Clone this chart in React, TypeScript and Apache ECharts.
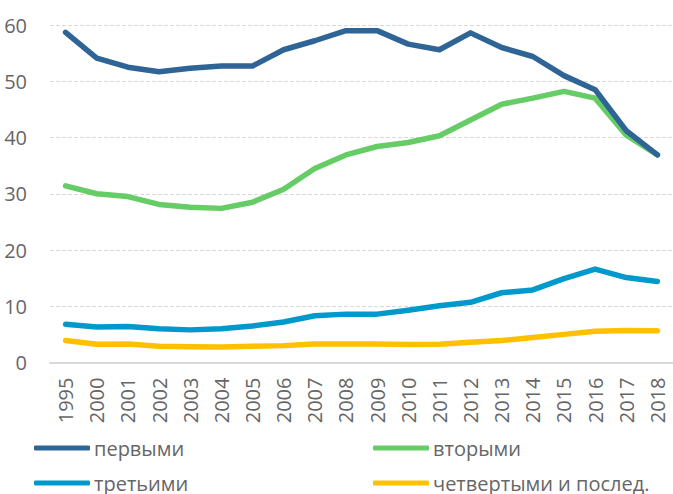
import React, { useEffect, useRef } from "react";
import * as echarts from "echarts";

const years = ["1995", "2000", "2001", "2002", "2003", "2004", "2005", "2006", "2007", "2008", "2009", "2010", "2011", "2012", "2013", "2014", "2015", "2016", "2017", "2018"];
const first = [58.7, 54.1, 52.5, 51.7, 52.3, 52.7, 52.7, 55.6, 57.2, 59.0, 59.0, 56.6, 55.6, 58.6, 56.0, 54.4, 51.0, 48.5, 41.2, 36.9];
const second = [31.4, 30.0, 29.5, 28.1, 27.6, 27.4, 28.5, 30.8, 34.5, 36.9, 38.4, 39.1, 40.3, 43.1, 45.9, 47.0, 48.2, 47.0, 40.4, 36.9];
const third = [6.8, 6.3, 6.4, 6.0, 5.8, 6.0, 6.5, 7.2, 8.3, 8.6, 8.6, 9.3, 10.1, 10.7, 12.4, 12.9, 14.9, 16.6, 15.1, 14.4];
const fourth = [3.9, 3.25, 3.3, 2.9, 2.8, 2.75, 2.9, 3.0, 3.3, 3.3, 3.3, 3.2, 3.25, 3.6, 3.9, 4.45, 5.0, 5.55, 5.7, 5.65];

const names = ["первыми", "вторыми", "третьими", "четвертыми и послед."];
const colors = ["#2F6497", "#66CC66", "#0099CC", "#FFC000"];
const seriesData = [first, second, third, fourth];

const FONT = "'Open Sans', sans-serif";
const TEXT = "#666666";

export default function App() {
  const ref = useRef<HTMLDivElement>(null);
  useEffect(() => {
    if (!ref.current) return;
    const chart = echarts.init(ref.current, undefined, { renderer: "svg" });
    const legendPos = [
      { left: 34, top: 438 },
      { left: 373, top: 438 },
      { left: 34, top: 473 },
      { left: 373, top: 473 },
    ];
    chart.setOption({
      animation: false,
      backgroundColor: "#ffffff",
      textStyle: { fontFamily: FONT },
      grid: { left: 50, top: 25, width: 628, height: 337.5 },
      legend: names.map((n, i) => ({
        data: [n],
        left: legendPos[i].left,
        top: legendPos[i].top,
        padding: 0,
        icon: "roundRect",
        itemWidth: 56,
        itemHeight: 5,
        textStyle: { fontFamily: FONT, fontSize: 20, color: TEXT, lineHeight: 18, padding: [0, 0, 2, -1] },
      })),
      xAxis: {
        type: "category",
        data: years,
        boundaryGap: true,
        axisTick: { show: false },
        axisLine: { lineStyle: { color: "#D9D9D9", width: 2 } },
        axisLabel: { rotate: 90, margin: 15, fontSize: 20, color: TEXT, fontFamily: FONT },
      },
      yAxis: {
        type: "value",
        min: 0,
        max: 60,
        interval: 10,
        axisLine: { show: false },
        axisTick: { show: false },
        axisLabel: { margin: 23, fontSize: 20, color: TEXT, fontFamily: FONT },
        splitLine: { lineStyle: { color: "#D9D9D9", type: "dashed", width: 1 } },
      },
      series: names.map((n, i) => ({
        name: n,
        type: "line",
        data: seriesData[i],
        symbol: "none",
        color: colors[i],
        lineStyle: { width: 5.5, color: colors[i], cap: "round", join: "round" },
        z: 10 - i,
      })),
    });
    return () => chart.dispose();
  }, []);
  return <div ref={ref} style={{ position: "absolute", left: 0, top: 0, width: 673, height: 494 }} />;
}
